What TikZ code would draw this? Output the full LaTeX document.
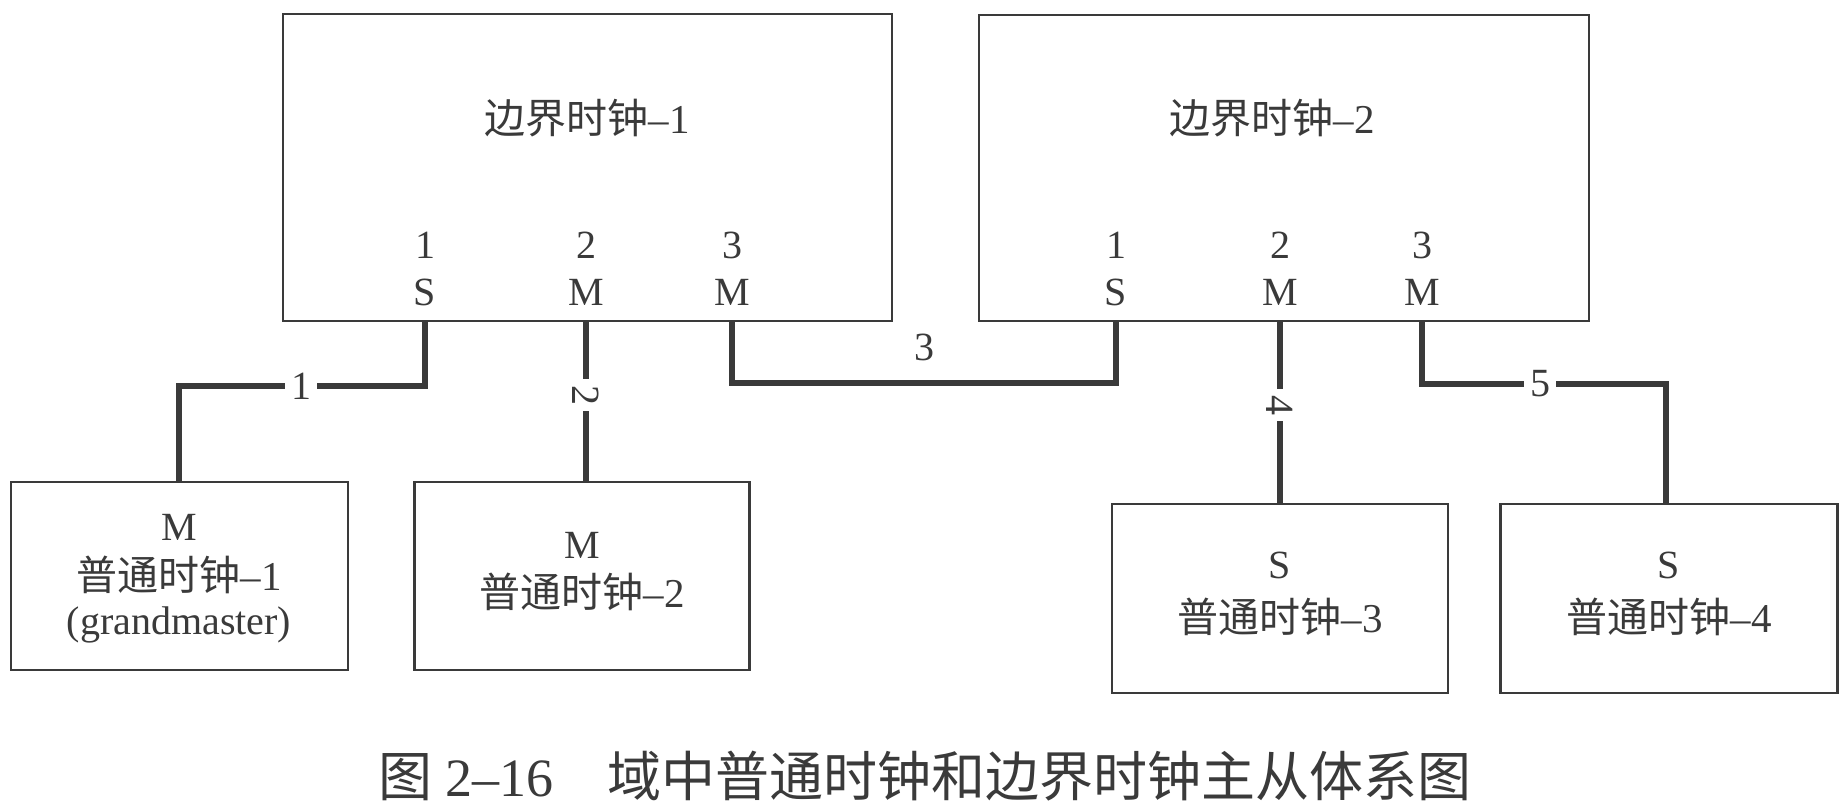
\documentclass[tikz,border=0pt]{standalone}
\usepackage{fontspec}
\setmainfont{Liberation Serif}
\newfontfamily\cjk{Noto Sans CJK SC}
\definecolor{ink}{HTML}{3A3A3A}
\begin{document}
\begin{tikzpicture}[x=0.5pt,y=-0.5pt,
  every node/.style={inner sep=0pt, outer sep=0pt, text=ink, font=\fontsize{20pt}{24pt}\selectfont},
  boxn/.style={draw=ink, line width=1.4pt, rectangle},
  wire/.style={draw=ink, line width=2.6pt, line cap=butt, line join=miter},
  wlab/.style={fill=white, inner xsep=3pt, inner ysep=1pt},
  cjkline/.style={font=\fontsize{20.5pt}{24pt}\selectfont}
]
\useasboundingbox (0,0) rectangle (1845,805);
\fill[white] (0,0) rectangle (1845,805);

% boundary clocks
\node[boxn, minimum width=304.5pt, minimum height=153.5pt] (bc1) at (587.5,167.5) {};
\node[boxn, minimum width=305pt, minimum height=153pt] (bc2) at (1284,168) {};
\node[cjkline] (bc1t) at (587,118) {{\cjk 边界时钟}–1};
\node[cjkline] (bc2t) at (1272,118) {{\cjk 边界时钟}–2};

% port labels BC1
\node (bc1n1) at (425,245) {1};
\node (bc1s1) at (425,292) {S};
\node (bc1n2) at (586,245) {2};
\node (bc1s2) at (586,292) {M};
\node (bc1n3) at (732,245) {3};
\node (bc1s3) at (732,292) {M};
% port labels BC2
\node (bc2n1) at (1116,245) {1};
\node (bc2s1) at (1116,292) {S};
\node (bc2n2) at (1280,245) {2};
\node (bc2s2) at (1280,292) {M};
\node (bc2n3) at (1422,245) {3};
\node (bc2s3) at (1422,292) {M};

% ordinary clocks
\node[boxn, minimum width=168.5pt, minimum height=94pt] (oc1) at (179.5,576) {};
\node[boxn, minimum width=167.5pt, minimum height=94pt] (oc2) at (582,576) {};
\node[boxn, minimum width=168pt, minimum height=94.5pt] (oc3) at (1280,598.5) {};
\node[boxn, minimum width=168.5pt, minimum height=94.5pt] (oc4) at (1669,598.5) {};

\node (oc1a) at (179,527) {M};
\node[cjkline] (oc1b) at (179,575) {{\cjk 普通时钟}–1};
\node (oc1c) at (179,625) {(grandmaster)};
\node (oc2a) at (582,545) {M};
\node[cjkline] (oc2b) at (582,592) {{\cjk 普通时钟}–2};
\node (oc3a) at (1280,565) {S};
\node[cjkline] (oc3b) at (1280,617) {{\cjk 普通时钟}–3};
\node (oc4a) at (1669,565) {S};
\node[cjkline] (oc4b) at (1669,617) {{\cjk 普通时钟}–4};

% connectors
\coordinate (k1) at (179,386);
\coordinate (k3) at (924,383);
\coordinate (k5) at (1666,384);
\draw[wire] (bc1s1 |- bc1.south) |- (k1) -- (k1 |- oc1.north);
\draw[wire] (bc1s2 |- bc1.south) -- (bc1s2 |- oc2.north);
\draw[wire] (bc1s3 |- bc1.south) |- (k3) -| (bc2s1 |- bc2.south);
\draw[wire] (bc2s2 |- bc2.south) -- (bc2s2 |- oc3.north);
\draw[wire] (bc2s3 |- bc2.south) |- (k5) -- (k5 |- oc4.north);

% link labels
\node[wlab] (w1) at (301,386) {1};
\node[wlab, rotate=-90] (w2) at (586,395) {2};
\node (w3) at (924,347) {3};
\node[wlab, rotate=-90] (w4) at (1280,405) {4};
\node[wlab] (w5) at (1540,384) {5};

% caption
\node[font=\fontsize{27pt}{30pt}\selectfont] (cap) at (925,776) {{\cjk 图} 2–16\quad{\cjk 域中普通时钟和边界时钟主从体系图}};
\end{tikzpicture}
\end{document}
